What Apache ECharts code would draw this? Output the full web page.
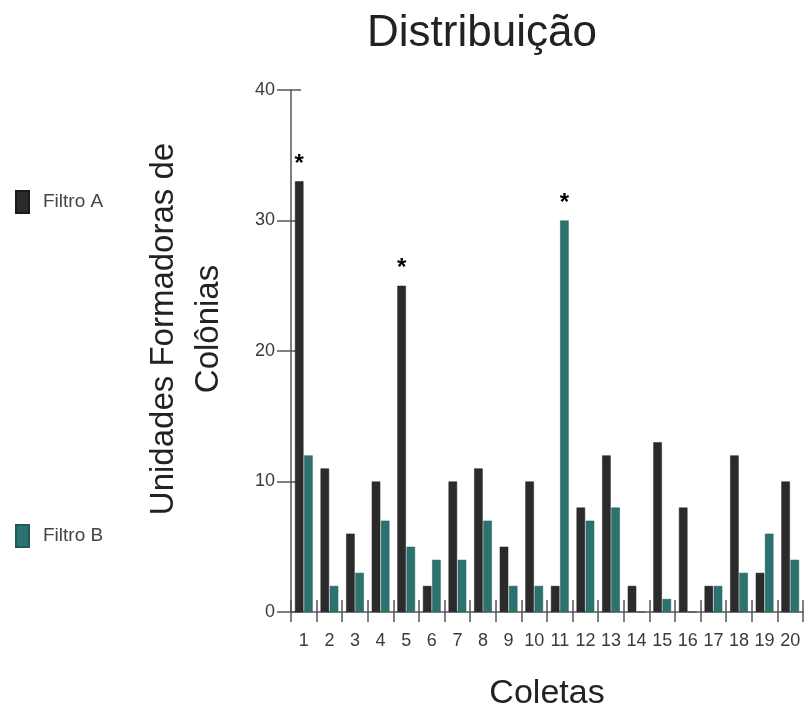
<!DOCTYPE html>
<html>
<head>
<meta charset="utf-8">
<script src="https://cdn.jsdelivr.net/npm/echarts@6/dist/echarts.min.js"></script>
<style>
  html, body { margin: 0; padding: 0; background: #fff; }
  #chart1 { width: 810px; height: 707px; }
</style>
</head>
<body>
<div id="chart1"></div>
<script>
// dados
const coletas = ['1','2','3','4','5','6','7','8','9','10','11','12','13','14','15','16','17','18','19','20'];
const filtroA = [33, 11, 6, 10, 25, 2, 10, 11, 5, 10, 2, 8, 12, 2, 13, 8, 2, 12, 3, 10];
const filtroB = [12, 2, 3, 7, 5, 4, 4, 7, 2, 2, 30, 7, 8, 0, 1, 0, 2, 3, 6, 4];
const yTicks = [0, 10, 20, 30, 40];
// índices com asterisco (diferença significativa)
const sigA = [0, 4];
const sigB = [10];

const font = 'Liberation Sans, Arial, sans-serif';
const axisColor = '#555';

function withStars(values, sig) {
    return values.map((v, i) => sig.indexOf(i) >= 0
        ? { value: v, label: { show: true } }
        : v);
}

let myChart = echarts.init(document.getElementById('chart1'));
const starLabel = {
    show: false,
    position: 'top',
    distance: 5,
    formatter: '*',
    fontSize: 24,
    fontWeight: 'bold',
    color: '#000',
    fontFamily: font
};
const option = {
    animation: false,
    title: {
        text: 'Distribuição',
        left: 477,
        top: 7,
        textAlign: 'center',
        textStyle: { fontSize: 44, fontWeight: 'normal', color: '#222', fontFamily: font }
    },
    legend: {
        orient: 'vertical',
        left: 15,
        top: 190,
        padding: 0,
        itemWidth: 13,
        itemHeight: 22,
        itemGap: 310,
        icon: 'rect',
        textStyle: { fontSize: 19, color: '#444', fontFamily: font, padding: [0, 0, 0, 9] },
        data: ['Filtro A', 'Filtro B']
    },
    grid: { left: 291, right: 7, top: 90, bottom: 95, outerBoundsMode: 'none' },
    xAxis: [{
        type: 'category',
        data: coletas,
        position: 'bottom',
        name: 'Coletas',
        nameLocation: 'middle',
        nameGap: 65,
        nameTextStyle: { fontSize: 34, color: '#222', fontFamily: font },
        axisLine: { lineStyle: { color: axisColor, width: 1.5 } },
        axisTick: { show: true, length: 10, lineStyle: { color: axisColor, width: 1.5 } },
        axisLabel: { interval: 0, hideOverlap: false, margin: 20, fontSize: 18, color: '#3a3a3a', fontFamily: font }
    }, {
        type: 'category',
        data: coletas,
        position: 'bottom',
        axisLine: { show: false },
        axisTick: { show: true, inside: true, length: 12, lineStyle: { color: axisColor, width: 1.5 } },
        axisLabel: { show: false }
    }],
    yAxis: [{
        type: 'value',
        min: 0,
        max: 40,
        interval: 10,
        position: 'left',
        name: 'Unidades Formadoras de\nColônias',
        nameLocation: 'middle',
        nameGap: 60,
        nameTextStyle: { fontSize: 33, lineHeight: 45, color: '#222', fontFamily: font, padding: [0, 0, 0, 44] },
        axisLine: { show: true, lineStyle: { color: axisColor, width: 1.5 } },
        axisTick: { show: true, length: 14, lineStyle: { color: axisColor, width: 1.5 } },
        splitLine: { show: false },
        axisLabel: {
            margin: 16, fontSize: 18, color: '#3a3a3a', fontFamily: font,
            formatter: v => yTicks.indexOf(v) >= 0 ? String(v) : ''
        }
    }, {
        type: 'value',
        min: 0,
        max: 40,
        interval: 10,
        position: 'left',
        axisLine: { show: false },
        axisTick: { show: true, inside: true, length: 10, lineStyle: { color: axisColor, width: 1.5 } },
        splitLine: { show: false },
        axisLabel: { show: false }
    }],
    series: [{
        name: 'Filtro A',
        type: 'bar',
        barWidth: 8.5,
        barGap: '8%',
        itemStyle: { color: '#2b2b2b', borderColor: '#1a1a1a', borderWidth: 0.5 },
        label: starLabel,
        data: withStars(filtroA, sigA)
    }, {
        name: 'Filtro B',
        type: 'bar',
        barWidth: 8.5,
        barGap: '8%',
        itemStyle: { color: '#2a736e', borderColor: '#1f5a56', borderWidth: 0.5 },
        label: starLabel,
        data: withStars(filtroB, sigB)
    }]
};
myChart.setOption(option);
</script>
</body>
</html>
